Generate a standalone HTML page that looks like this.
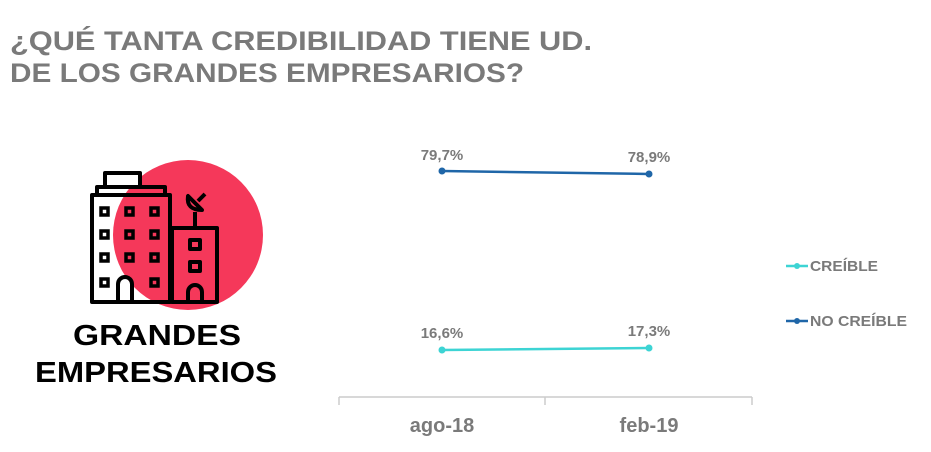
<!DOCTYPE html>
<html><head><meta charset="utf-8"><style>
body{margin:0;background:#fff;width:931px;height:452px;overflow:hidden}
svg{display:block}
text{font-family:"Liberation Sans",sans-serif;font-weight:bold}
</style></head><body>
<svg width="931" height="452" viewBox="0 0 931 452">
<text x="10" y="50" font-size="27" fill="#7a7a7a" textLength="582" lengthAdjust="spacingAndGlyphs">¿QUÉ TANTA CREDIBILIDAD TIENE UD.</text>
<text x="10" y="82" font-size="27" fill="#7a7a7a" textLength="514" lengthAdjust="spacingAndGlyphs">DE LOS GRANDES EMPRESARIOS?</text>
<circle cx="188" cy="235" r="75" fill="#f5385a"/>
<g fill="none" stroke="#000" stroke-width="4" stroke-linejoin="round">
<rect x="105" y="173" width="35" height="14" fill="#fff"/>
<rect x="97" y="187" width="68" height="8"/>
<rect x="92" y="195" width="78" height="107"/>
<rect x="172" y="228" width="45" height="74"/>
<line x1="195" y1="228" x2="195" y2="212"/>
<path d="M188 196 q-2 14 14 14 z"/>
<line x1="198" y1="201" x2="205" y2="194"/>
<path d="M118 302 v-18 a7 7 0 0 1 14 0 v18"/>
<path d="M188 302 v-10 a7 7 0 0 1 14 0 v10"/>
<rect x="190" y="240" width="10" height="9"/>
<rect x="190" y="262" width="10" height="9"/>
</g>
<g fill="none" stroke="#000" stroke-width="3.5">
<rect x="101" y="208" width="7" height="7"/><rect x="126" y="208" width="7" height="7"/><rect x="151" y="208" width="7" height="7"/>
<rect x="101" y="231" width="7" height="7"/><rect x="126" y="231" width="7" height="7"/><rect x="151" y="231" width="7" height="7"/>
<rect x="101" y="254" width="7" height="7"/><rect x="126" y="254" width="7" height="7"/><rect x="151" y="254" width="7" height="7"/>
<rect x="101" y="279" width="7" height="7"/><rect x="151" y="279" width="7" height="7"/>
</g>
<text x="157" y="345" font-size="29" fill="#000" text-anchor="middle" textLength="168" lengthAdjust="spacingAndGlyphs">GRANDES</text>
<text x="156" y="382" font-size="29" fill="#000" text-anchor="middle" textLength="242" lengthAdjust="spacingAndGlyphs">EMPRESARIOS</text>
<line x1="339" y1="397" x2="752" y2="397" stroke="#ccc" stroke-width="1.5"/>
<line x1="339" y1="397" x2="339" y2="405" stroke="#ccc" stroke-width="1.5"/>
<line x1="545" y1="397" x2="545" y2="405" stroke="#ccc" stroke-width="1.5"/>
<line x1="752" y1="397" x2="752" y2="405" stroke="#ccc" stroke-width="1.5"/>
<text x="442" y="432" font-size="20" fill="#7a7a7a" text-anchor="middle">ago-18</text>
<text x="649" y="432" font-size="20" fill="#7a7a7a" text-anchor="middle">feb-19</text>
<line x1="442" y1="171" x2="649" y2="174" stroke="#1f66a8" stroke-width="2.5"/>
<circle cx="442" cy="171" r="3.5" fill="#1f66a8"/><circle cx="649" cy="174" r="3.5" fill="#1f66a8"/>
<line x1="442" y1="350" x2="649" y2="348" stroke="#3dd4d4" stroke-width="2.5"/>
<circle cx="442" cy="350" r="3.5" fill="#3dd4d4"/><circle cx="649" cy="348" r="3.5" fill="#3dd4d4"/>
<g font-size="15" fill="#7a7a7a" text-anchor="middle">
<text x="442" y="160">79,7%</text><text x="649" y="162">78,9%</text>
<text x="442" y="338">16,6%</text><text x="649" y="336">17,3%</text>
</g>
<line x1="786" y1="266" x2="808" y2="266" stroke="#3dd4d4" stroke-width="2.5"/><circle cx="797" cy="266" r="3" fill="#3dd4d4"/>
<line x1="786" y1="321" x2="808" y2="321" stroke="#1f66a8" stroke-width="2.5"/><circle cx="797" cy="321" r="3" fill="#1f66a8"/>
<text x="810" y="271" font-size="15" fill="#7a7a7a" textLength="68" lengthAdjust="spacingAndGlyphs">CREÍBLE</text>
<text x="810" y="326" font-size="15" fill="#7a7a7a" textLength="97" lengthAdjust="spacingAndGlyphs">NO CREÍBLE</text>
</svg>
</body></html>
